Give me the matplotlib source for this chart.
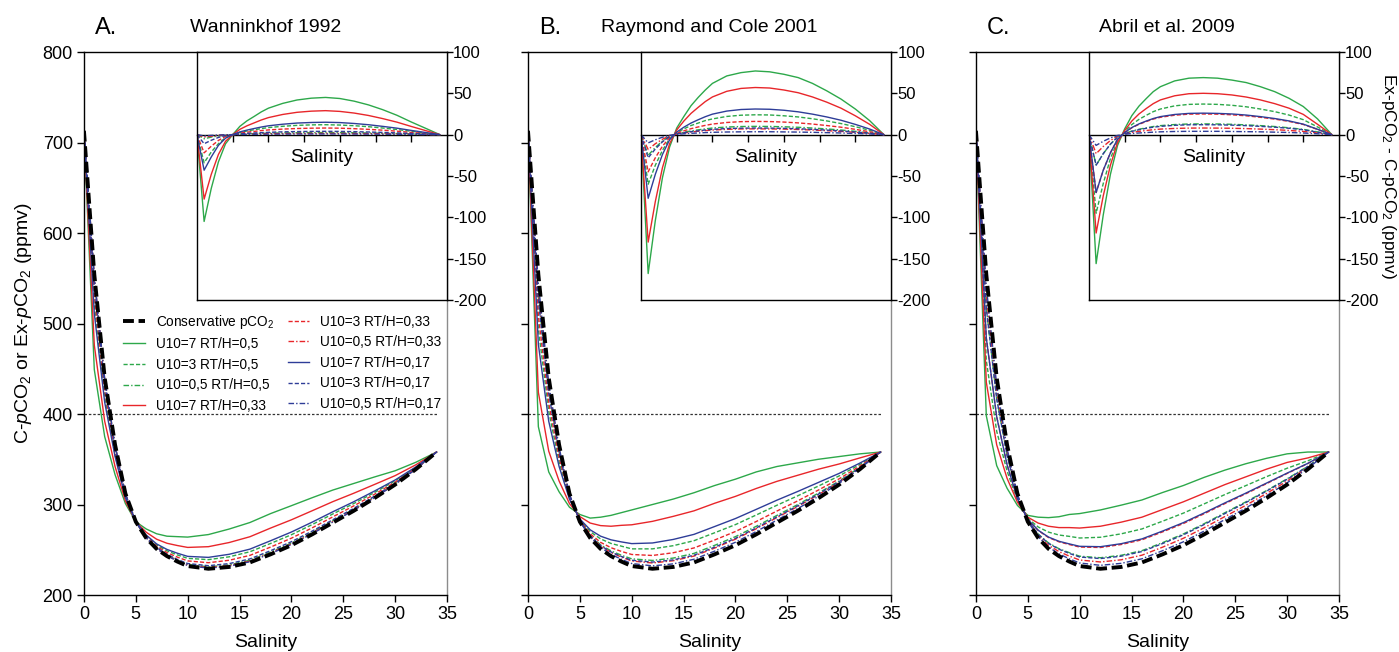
import numpy as np
import matplotlib.pyplot as plt

plt.rcParams['font.family'] = ['Liberation Sans', 'DejaVu Sans']
plt.rcParams['mathtext.fontset'] = 'custom'
plt.rcParams['mathtext.rm'] = 'Liberation Sans'
plt.rcParams['mathtext.it'] = 'Liberation Sans:italic'
plt.rcParams['axes.unicode_minus'] = False

# salinity grid of the model runs
salinity = [0, 1, 2, 3, 4, 5, 6, 7, 8, 9, 10, 12, 14, 16, 18, 20, 22, 24, 26, 28, 30, 32, 34]
# conservative mixing pCO2 (ppmv)
conservative = [713, 554, 440, 366, 312, 281, 263, 251, 243, 237, 232, 229, 231, 236,
                245, 255, 267, 280, 293, 307, 322, 339, 358]

labels = ['U10=7 RT/H=0,5', 'U10=3 RT/H=0,5', 'U10=0,5 RT/H=0,5',
          'U10=7 RT/H=0,33', 'U10=3 RT/H=0,33', 'U10=0,5 RT/H=0,33',
          'U10=7 RT/H=0,17', 'U10=3 RT/H=0,17', 'U10=0,5 RT/H=0,17']

# Ex-pCO2 - C-pCO2 (ppmv), one row per label
wanninkhof = [
    [0, -105, -65, -33, -11, 0, 10, 16.7, 22, 27.5, 32, 37.8, 41.9, 44.1, 45, 43.7, 40.5, 36, 30.2, 23.4, 15.3, 7.7, 0],
    [0, -34, -21, -11, -3.5, 0, 2.6, 4.4, 5.9, 7.3, 8.5, 10.1, 11.2, 11.8, 12, 11.6, 10.8, 9.6, 8, 6.2, 4.1, 2, 0],
    [0, -5, -3, -1.5, -0.5, 0, 0.55, 0.9, 1.2, 1.5, 1.8, 2.1, 2.3, 2.45, 2.5, 2.4, 2.25, 2, 1.7, 1.3, 0.85, 0.4, 0],
    [0, -78, -48, -24, -8, 0, 6.4, 10.7, 14.2, 17.7, 20.6, 24.4, 27, 28.4, 29, 28.1, 26.1, 23.2, 19.4, 15.1, 9.9, 4.9, 0],
    [0, -22, -14, -7, -2.2, 0, 1.8, 3, 3.9, 4.9, 5.7, 6.7, 7.4, 7.8, 8, 7.8, 7.2, 6.4, 5.4, 4.2, 2.7, 1.4, 0],
    [0, -3, -1.9, -0.9, -0.3, 0, 0.33, 0.55, 0.75, 0.9, 1.05, 1.25, 1.4, 1.47, 1.5, 1.45, 1.35, 1.2, 1, 0.8, 0.5, 0.25, 0],
    [0, -43, -27, -13, -4.3, 0, 3.3, 5.5, 7.4, 9.2, 10.7, 12.6, 14, 14.7, 15, 14.6, 13.5, 12, 10, 7.8, 5.1, 2.6, 0],
    [0, -11, -6.8, -3.4, -1.1, 0, 0.9, 1.5, 2, 2.4, 2.8, 3.4, 3.7, 3.9, 4, 3.9, 3.6, 3.2, 2.7, 2.1, 1.4, 0.7, 0],
    [0, -1.5, -0.9, -0.5, -0.15, 0, 0.18, 0.3, 0.4, 0.5, 0.57, 0.67, 0.74, 0.78, 0.8, 0.78, 0.72, 0.64, 0.54, 0.42, 0.27, 0.14, 0],
]
raymond = [
    [0, -168, -104, -52, -15, 8, 22, 35, 45, 54, 62, 71, 75, 77, 76, 73, 69, 62, 53, 43, 31, 17, 0],
    [0, -60, -37, -19, -5, 2.4, 7, 11, 14, 17, 19, 22, 23.5, 24, 23.8, 22.8, 21.4, 19.2, 16.6, 13.4, 9.6, 5.3, 0],
    [0, -25, -15.5, -7.8, -2, 1, 2.9, 4.5, 5.8, 7, 8, 9.2, 9.8, 10, 9.9, 9.5, 8.9, 8, 6.9, 5.6, 4, 2.2, 0],
    [0, -130, -81, -40, -11, 5.7, 16.5, 25.7, 33, 40, 45.6, 52.4, 55.9, 57, 56.4, 54, 50.7, 45.6, 39.3, 32, 22.8, 12.5, 0],
    [0, -45, -28, -14, -3.6, 1.6, 4.6, 7.2, 9.3, 11.2, 12.8, 14.7, 15.7, 16, 15.8, 15.2, 14.2, 12.8, 11, 9, 6.4, 3.5, 0],
    [0, -18, -11, -5.6, -1.4, 0.7, 2, 3.2, 4.1, 4.9, 5.6, 6.4, 6.9, 7, 6.9, 6.7, 6.2, 5.6, 4.8, 3.9, 2.8, 1.5, 0],
    [0, -77, -48, -24, -6.2, 3.1, 9, 14, 18, 21.7, 24.8, 28.5, 30.4, 31, 30.7, 29.5, 27.6, 24.8, 21.4, 17.4, 12.4, 6.8, 0],
    [0, -28, -17.4, -8.7, -2.2, 0.8, 2.3, 3.6, 4.6, 5.6, 6.4, 7.4, 7.8, 8, 7.9, 7.6, 7.1, 6.4, 5.5, 4.5, 3.2, 1.8, 0],
    [0, -10, -6.2, -3.1, -0.8, 0.35, 1, 1.6, 2, 2.5, 2.8, 3.2, 3.4, 3.5, 3.5, 3.3, 3.1, 2.8, 2.4, 2, 1.4, 0.8, 0],
]
abril = [
    [0, -156, -97, -48, -13, 7, 23, 34.5, 43.5, 52, 58, 65, 68.3, 69, 68.3, 66, 63, 58, 52, 44, 34, 19, 0],
    [0, -95, -59, -29, -7.6, 3.7, 12.2, 18.5, 23.3, 27.8, 31, 34.8, 36.6, 37, 36.6, 35.5, 33.7, 31, 27.8, 23.7, 18.1, 9.3, 0],
    [0, -37, -23, -11.5, -3, 1.3, 4.3, 6.5, 8.2, 9.8, 10.9, 12.2, 12.9, 13, 12.9, 12.5, 11.8, 10.9, 9.8, 8.3, 6.4, 3.3, 0],
    [0, -119, -74, -37, -9.5, 5, 16.5, 25, 31.5, 37.5, 42, 47, 49.5, 50, 49.5, 48, 45.5, 42, 37.5, 32, 24.5, 12.5, 0],
    [0, -70, -43, -22, -5.6, 2.5, 8.3, 12.5, 15.8, 18.8, 21, 23.5, 24.8, 25, 24.8, 24, 22.8, 21, 18.8, 16, 12.3, 6.3, 0],
    [0, -23, -14.3, -7.1, -1.8, 0.8, 2.6, 4, 5, 6, 6.7, 7.5, 7.9, 8, 7.9, 7.7, 7.3, 6.7, 6, 5.1, 3.9, 2, 0],
    [0, -70, -43, -22, -5.6, 2.6, 8.6, 13, 16.4, 19.5, 21.8, 24.4, 25.7, 26, 25.7, 25, 23.7, 21.8, 19.5, 16.6, 12.7, 6.5, 0],
    [0, -37, -23, -11.5, -3, 1.2, 4, 6, 7.6, 9, 10, 11.3, 11.9, 12, 11.9, 11.5, 10.9, 10, 9, 7.7, 5.9, 3, 0],
    [0, -13, -8, -4, -1, 0.4, 1.3, 2, 2.5, 3, 3.4, 3.8, 4, 4, 4, 3.8, 3.6, 3.4, 3, 2.6, 2, 1, 0],
]

panels = [('A.', 'Wanninkhof 1992', wanninkhof, 0.5),
          ('B.', 'Raymond and Cole 2001', raymond, 0.5),
          ('C.', 'Abril et al. 2009', abril, 0.525)]

colors = ['#2DA84A', '#E8262A', '#2E3D98']
styles = ['-', (0, (3, 1.5)), (0, (4, 1.5, 1, 1.5))]

sal = np.array(salinity)
cons = np.array(conservative)

fig = plt.figure(figsize=(13.99, 6.52), dpi=100)
lefts = [0.0600, 0.3774, 0.6976]
W, B, H = 0.2595, 0.0874, 0.8328

for p, (letter, title, diffs, tx) in enumerate(panels):
    ax = fig.add_axes([lefts[p], B, W, H])
    ax.axhline(400, xmin=0, xmax=34 / 35, color='0.2', lw=0.9, ls=(0, (2, 1.5)))
    handles = []
    h, = ax.plot(sal, cons, color='k', lw=2.8, ls=(0, (2.8, 1.2)), zorder=5,
                 label='Conservative pCO$_2$')
    handles.append(h)
    for i, d in enumerate(diffs):
        h, = ax.plot(sal, cons + np.array(d), color=colors[i // 3],
                     ls=styles[i % 3], lw=1.0, label=labels[i])
        handles.append(h)
    ax.set_xlim(0, 35)
    ax.set_ylim(200, 800)
    ax.set_xticks(range(0, 36, 5))
    ax.set_yticks(range(200, 801, 100))
    ax.tick_params(direction='out', length=5, width=1, labelsize=13, pad=3)
    ax.spines['right'].set_color('0.55')
    for s in ax.spines.values():
        s.set_linewidth(1)
    ax.set_xlabel('Salinity', fontsize=14, labelpad=8)
    if p == 0:
        ax.set_ylabel('C-$\\it{p}$CO$_2$ or Ex-$\\it{p}$CO$_2$ (ppmv)', fontsize=14, labelpad=6)
        ax.legend(handles=handles, ncol=2, loc='upper left', bbox_to_anchor=(0.0926, 0.530),
                  borderaxespad=0, frameon=False, fontsize=9.8, handlelength=1.6,
                  labelspacing=0.48, columnspacing=1.0, handletextpad=0.8,
                  alignment='left')
    else:
        ax.set_yticklabels([])
    ax.text(tx, 1.045, title, transform=ax.transAxes, ha='center', va='center', fontsize=14)
    ax.text(0.03, 1.045, letter, transform=ax.transAxes, ha='left', va='center', fontsize=17)

    ins = fig.add_axes([lefts[p] + 0.0808, 0.5399, W - 0.0808, 0.3804])
    for i, d in enumerate(diffs):
        ins.plot(sal, d, color=colors[i // 3], ls=styles[i % 3], lw=1.0)
    ins.set_xlim(0, 35)
    ins.set_ylim(-200, 100)
    ins.set_xticks([])
    ins.yaxis.tick_right()
    ins.set_yticks(range(-200, 101, 50))
    ins.tick_params(axis='y', direction='out', length=4, width=1, labelsize=12, pad=0.5)
    for s in ins.spines.values():
        s.set_linewidth(1)
    sec = ins.secondary_xaxis(2 / 3)
    sec.set_alignment('bottom')
    sec.set_xticks(range(5, 31, 5))
    sec.tick_params(direction='out', length=5, width=1, labelbottom=False)
    sec.spines['bottom'].set_linewidth(1)
    ins.text(17.5, -28, 'Salinity', ha='center', va='center', fontsize=14)

fig.text(0.9925, 0.730, 'Ex-pCO$_2$ - C-pCO$_2$ (ppmv)', fontsize=12.5,
         rotation=270, ha='center', va='center')

fig.savefig('out.png', dpi=100)
